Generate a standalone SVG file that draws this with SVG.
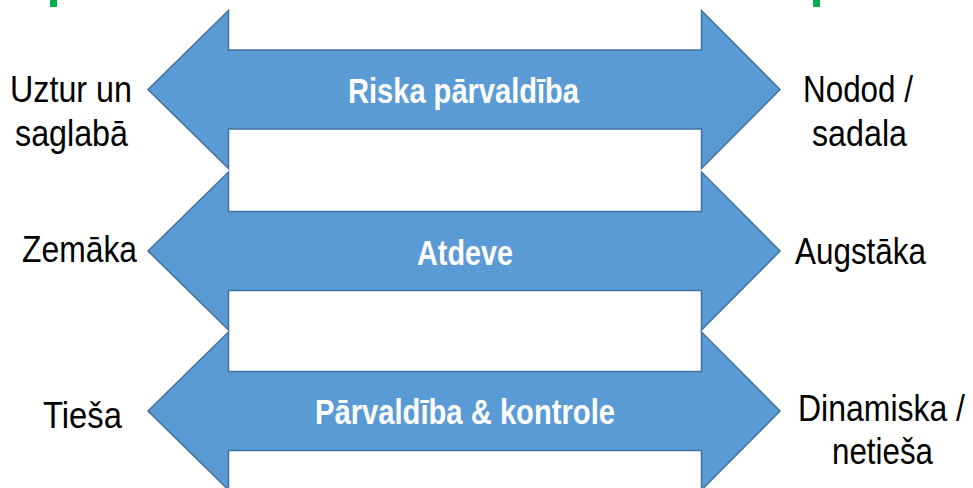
<svg xmlns="http://www.w3.org/2000/svg" width="973" height="488" viewBox="0 0 973 488">
<style>
.arrow{fill:#5B9BD5;stroke:#41719C;stroke-width:1.5;stroke-linejoin:miter}
.c{font-family:"Liberation Sans",Arial,sans-serif;font-weight:bold;font-size:35px;fill:#FFFFFF}
.s{font-family:"Liberation Sans",Arial,sans-serif;font-size:37px;fill:#000000}
.mark{fill:#00B050}
</style>
<rect width="973" height="488" fill="#FFFFFF"/>
<rect class="mark" x="50" y="0" width="7" height="7"/>
<rect class="mark" x="813" y="0" width="7" height="7"/>
<defs>
<path id="dbl" d="M148,0 L228.5,-79 L228.5,-39.5 L701.5,-39.5 L701.5,-79 L780,0 L701.5,79 L701.5,39.5 L228.5,39.5 L228.5,79 Z"/>
</defs>
<g id="risk">
<use href="#dbl" class="arrow" transform="translate(0,89.5)"/>
<text class="c" x="348" y="103" textLength="231" lengthAdjust="spacingAndGlyphs">Riska pārvaldība</text>
</g>
<g id="atdeve">
<use href="#dbl" class="arrow" transform="translate(0,251)"/>
<text class="c" x="417" y="265" textLength="96" lengthAdjust="spacingAndGlyphs">Atdeve</text>
</g>
<g id="parvaldiba">
<use href="#dbl" class="arrow" transform="translate(0,411)"/>
<text class="c" x="315" y="424" textLength="300" lengthAdjust="spacingAndGlyphs">Pārvaldība &amp; kontrole</text>
</g>
<g id="uztur">
<text class="s" x="10" y="102" textLength="122" lengthAdjust="spacingAndGlyphs">Uztur un</text>
<text class="s" x="15" y="146" textLength="113" lengthAdjust="spacingAndGlyphs">saglabā</text>
</g>
<g id="nodod">
<text class="s" x="803" y="102" textLength="110" lengthAdjust="spacingAndGlyphs">Nodod /</text>
<text class="s" x="812" y="146" textLength="95" lengthAdjust="spacingAndGlyphs">sadala</text>
</g>
<g id="zemaka">
<text class="s" x="22" y="262" textLength="115" lengthAdjust="spacingAndGlyphs">Zemāka</text>
</g>
<g id="augstaka">
<text class="s" x="795" y="264" textLength="131" lengthAdjust="spacingAndGlyphs">Augstāka</text>
</g>
<g id="tiesa">
<text class="s" x="43" y="428" textLength="79" lengthAdjust="spacingAndGlyphs">Tieša</text>
</g>
<g id="dinamiska">
<text class="s" x="798" y="421" textLength="167" lengthAdjust="spacingAndGlyphs">Dinamiska /</text>
<text class="s" x="832" y="464" textLength="101" lengthAdjust="spacingAndGlyphs">netieša</text>
</g>
</svg>
